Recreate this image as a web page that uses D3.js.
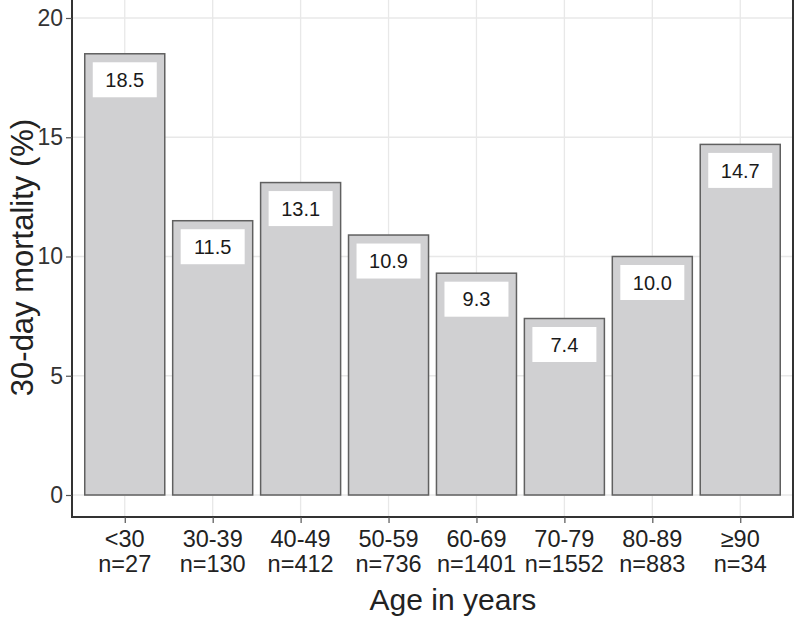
<!DOCTYPE html>
<html><head><meta charset="utf-8">
<script src="https://cdn.jsdelivr.net/npm/d3@7"></script>
<style>body{margin:0;background:#fff}svg{display:block}text{font-family:"Liberation Sans",Arial,sans-serif}</style>
</head><body><svg id="c" width="800" height="620"></svg>
<script>
const categories = ["<30","30-39","40-49","50-59","60-69","70-79","80-89","\u226590"];
const counts = ["n=27","n=130","n=412","n=736","n=1401","n=1552","n=883","n=34"];
const mortality = [18.5,11.5,13.1,10.9,9.3,7.4,10.0,14.7];
const yTicks = [0,5,10,15,20];

const svg = d3.select("#c");
const L=72, R=793, T=-2, B=517;
const y = d3.scaleLinear().domain([0,20]).range([495,18]);
const x = d3.scalePoint().domain(categories).range([L,R]).padding(0.6);
const xc = d => x(d);
const bw = x.step()*0.91;

// grid
const g = svg.append("g");
g.selectAll(".gy").data(yTicks).join("line")
 .attr("x1",L).attr("x2",R).attr("y1",d=>y(d)).attr("y2",d=>y(d))
 .attr("stroke","#e8e8e8").attr("stroke-width",1.3);
g.selectAll(".gx").data(categories).join("line")
 .attr("x1",d=>xc(d)).attr("x2",d=>xc(d)).attr("y1",T).attr("y2",B)
 .attr("stroke","#e8e8e8").attr("stroke-width",1.3);

// bars
svg.selectAll(".bar").data(mortality).join("rect")
 .attr("x",(d,i)=>xc(categories[i])-bw/2).attr("width",bw)
 .attr("y",d=>y(d)).attr("height",d=>y(0)-y(d))
 .attr("fill","#d0d0d2").attr("stroke","#606060").attr("stroke-width",1.5);

// labels
const lab = svg.selectAll(".lab").data(mortality).join("g")
 .attr("transform",(d,i)=>`translate(${xc(categories[i])},${y(d)+8.5})`);
lab.append("rect").attr("x",-32).attr("y",0).attr("width",64).attr("height",35).attr("fill","#fff");
lab.append("text").attr("text-anchor","middle").attr("y",17.5).attr("dy","0.36em").attr("font-size",20)
 .attr("fill","#1a1a1a").text(d=>d.toFixed(1));

// panel border
svg.append("path").attr("d",`M${L},${T}V${B}H${R}V${T}`).attr("fill","none")
 .attr("stroke","#333").attr("stroke-width",2);

// y axis
const ya = svg.append("g").attr("transform",`translate(${L},0)`)
 .call(d3.axisLeft(y).tickValues(yTicks).tickSize(6).tickPadding(3).tickFormat(d3.format("d")));
ya.select(".domain").remove();
ya.selectAll("line").attr("stroke","#555").attr("stroke-width",1.2);
ya.selectAll("text").attr("font-size",23).attr("fill","#333");

// x axis
const xa = svg.append("g").attr("transform",`translate(0,${B})`)
 .call(d3.axisBottom(x).tickSize(6).tickFormat(""));
xa.select(".domain").remove();
xa.selectAll("line").attr("stroke","#555").attr("stroke-width",1.2);
const tl = svg.selectAll(".tl").data(categories).join("text")
 .attr("x",d=>xc(d)).attr("y",547).attr("text-anchor","middle")
 .attr("font-size",23.5).attr("fill","#222");
tl.append("tspan").attr("x",d=>xc(d)).text(d=>d);
tl.append("tspan").attr("x",d=>xc(d)).attr("dy",25).text((d,i)=>counts[i]);

svg.append("text").attr("x",453).attr("y",610).attr("text-anchor","middle")
 .attr("font-size",30).attr("fill","#222").text("Age in years");
svg.append("text").attr("transform",`translate(33,${(T+B)/2}) rotate(-90)`).attr("text-anchor","middle")
 .attr("font-size",31).attr("fill","#222").text("30-day mortality (%)");
</script></body></html>
